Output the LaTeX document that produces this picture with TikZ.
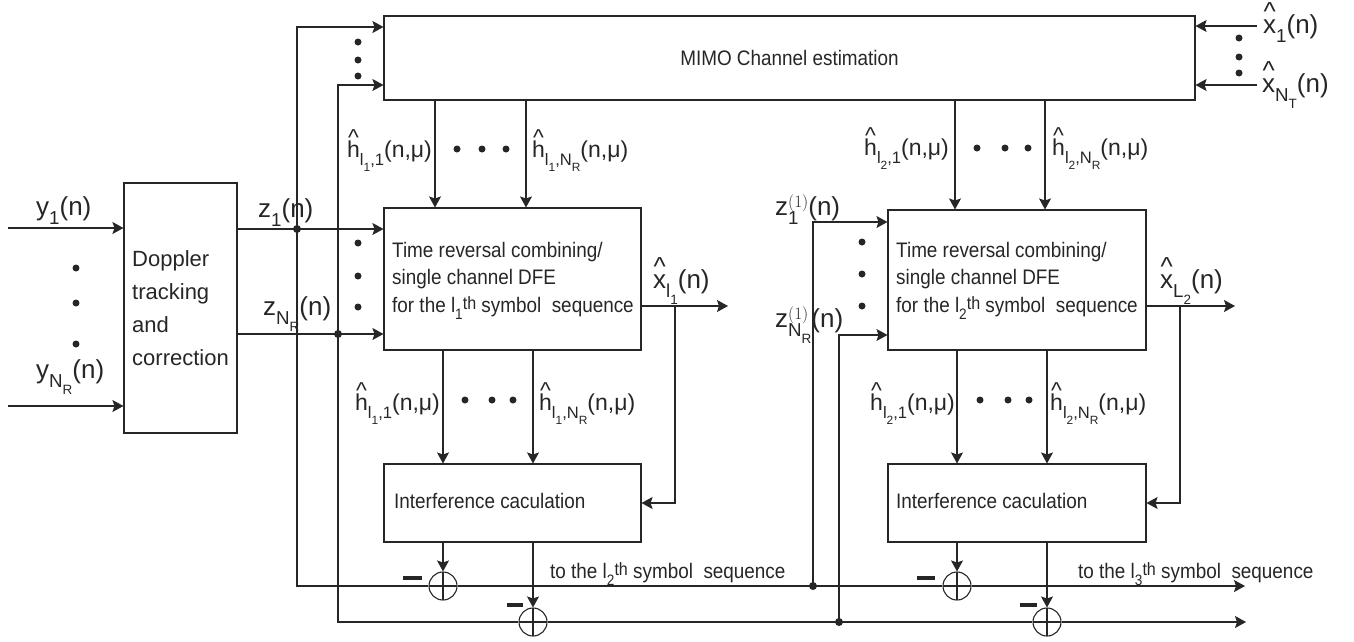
\documentclass[tikz,border=0pt]{standalone}
\usepackage{amsmath}
\usepackage{fontspec}
\setmainfont{Liberation Sans}
\newfontfamily\boxfont[FakeStretch=0.9]{Liberation Sans}
\usetikzlibrary{arrows.meta}

\makeatletter
\newcommand\sub[1]{\raisebox{-0.36em}{\fontsize{\fpeval{0.72*\f@size}}{0}\selectfont #1}}
\newcommand\upth{\raisebox{0.12em}{\fontsize{\fpeval{0.85*\f@size}}{0}\selectfont th}}
\makeatother
\newcommand\hatc[1]{\ooalign{#1\cr\hidewidth\raisebox{0.5em}{\textasciicircum}\hidewidth\cr}}
\newcommand\boxtext{\boxfont\fontsize{21}{27.5}\selectfont}
\newcommand\lbltext{\fontsize{26}{30}\selectfont}
\newcommand\htext{\fontsize{23}{27}\selectfont}
\newcommand\hest[2]{\hatc{h}\sub{l\sub{#1},#2}(n,μ)}
\newcommand\zres[1]{z\ooalign{\raisebox{0.3em}{$\scriptstyle(1)$}\cr\sub{#1}\cr}(n)}

\tikzset{
  blk/.style={draw, line width=1.1pt, inner sep=0pt},
  wire/.style={line width=1.1pt},
  sig/.style={wire, -{Stealth[length=11pt, width=12pt, inset=2pt]}},
  lbl/.style={anchor=base west, inner sep=0pt, font=\lbltext},
  hlbl/.style={lbl, font=\htext},
  btxt/.style={anchor=base west, inner sep=0pt, font=\boxtext},
  junc/.style={circle, fill, inner sep=0pt, minimum size=8pt},
  sumnode/.style={circle, draw, line width=1.1pt, minimum size=28pt, inner sep=0pt,
    path picture={\draw[wire] (path picture bounding box.north) -- (path picture bounding box.south)
      (path picture bounding box.west) -- (path picture bounding box.east);}},
  minus/.style={line width=3.5pt}
}

\begin{document}
\begin{tikzpicture}[x=1pt, y=-1pt, color=black!85]
    \useasboundingbox (0,0) rectangle (1354,641);
    % blocks
    \node[blk, minimum width=113pt, minimum height=250pt, align=left,
      font=\fontsize{22}{33}\selectfont] (dop) at (180.5,308) {Doppler\\tracking\\and\\correction};
    \node[blk, minimum width=811pt, minimum height=84pt, font=\boxtext] (mimo) at (789.5,58) {MIMO Channel estimation};
    \node[blk, minimum width=257pt, minimum height=142pt] (tr1) at (512.5,279) {};
    \node[blk, minimum width=257pt, minimum height=78pt] (int1) at (512.5,503) {};
    \node[blk, minimum width=258pt, minimum height=140pt] (tr2) at (1017,280) {};
    \node[blk, minimum width=258pt, minimum height=78pt] (int2) at (1017,503) {};
    \node[anchor=north west, inner sep=0pt, align=left, font=\boxtext] (tr1txt) at (392,242)
      {Time reversal combining/\\single channel DFE\\for the l\sub{1}\upth\ symbol\ \ sequence};
    \node[anchor=north west, inner sep=0pt, align=left, font=\boxtext] (tr2txt) at (896,242)
      {Time reversal combining/\\single channel DFE\\for the l\sub{2}\upth\ symbol\ \ sequence};
    \node[btxt] (int1txt) at (394,508) {Interference caculation};
    \node[btxt] (int2txt) at (896,508) {Interference caculation};
    % adders
    \node[sumnode] (s1) at (443,586) {};
    \node[sumnode] (s2) at (533,622) {};
    \node[sumnode] (s3) at (957,586) {};
    \node[sumnode] (s4) at (1047,622) {};
    \draw[minus] (403,578) -- (422,578);
    \draw[minus] (507,605) -- (523,605);
    \draw[minus] (917,578) -- (935,578);
    \draw[minus] (1020,605) -- (1037,605);
    % inputs
    \coordinate (yone) at (8,228);
    \coordinate (ynr) at (8,406);
    \draw[sig] (yone) -- (yone -| dop.west);
    \draw[sig] (ynr) -- (ynr -| dop.west);
    \coordinate (zone) at (dop.east |- 0,229);
    \coordinate (znr) at (dop.east |- 0,334);
    \draw[sig] (zone) -- (zone -| tr1.west);
    \draw[sig] (znr) -- (znr -| tr1.west);
    \node[junc] (ja) at (297,229) {};
    \node[junc] (jb) at (338,334) {};
    \coordinate (ma) at (mimo.west |- 0,27);
    \coordinate (mb) at (mimo.west |- 0,85);
    \draw[sig] (s1.west) -| (ja.center) |- (ma);
    \draw[sig] (s2.west) -| (jb.center) |- (mb);
    \coordinate (xhone) at (1257,26);
    \coordinate (xhnt) at (1257,85);
    \draw[sig] (xhone) -- (xhone -| mimo.east);
    \draw[sig] (xhnt) -- (xhnt -| mimo.east);
    % channel estimates
    \foreach \xx in {435,526} \draw[sig] (mimo.south -| \xx,0) -- (tr1.north -| \xx,0);
    \foreach \xx in {955,1045} \draw[sig] (mimo.south -| \xx,0) -- (tr2.north -| \xx,0);
    \foreach \xx in {443,533} \draw[sig] (tr1.south -| \xx,0) -- (int1.north -| \xx,0);
    \foreach \xx in {957,1047} \draw[sig] (tr2.south -| \xx,0) -- (int2.north -| \xx,0);
    \draw[sig] (int1.south -| s1) -- (s1.north);
    \draw[sig] (int1.south -| s2) -- (s2.north);
    \draw[sig] (int2.south -| s3) -- (s3.north);
    \draw[sig] (int2.south -| s4) -- (s4.north);
    % decisions and feedback
    \coordinate (xa) at (728,306);
    \coordinate (fa) at (675,306);
    \draw[sig] (tr1.east |- xa) -- (xa);
    \draw[sig] (fa) |- (int1.east);
    \coordinate (xb) at (1235,306);
    \coordinate (fb) at (1180,306);
    \draw[sig] (tr2.east |- xb) -- (xb);
    \draw[sig] (fb) |- (int2.east);
    % cancelled signals
    \node[junc] (jc) at (813,586) {};
    \node[junc] (jd) at (839,622) {};
    \coordinate (outa) at (1245,586);
    \coordinate (outb) at (1246,622);
    \draw[wire] (s1.east) -- (s3.west);
    \draw[sig] (s3.east) -- (outa);
    \draw[wire] (s2.east) -- (s4.west);
    \draw[sig] (s4.east) -- (outb);
    \draw[sig] (jc.center) |- (tr2.west |- 0,222);
    \draw[sig] (jd.center) |- (tr2.west |- 0,335);
    % dots
    \foreach \p in {(76,268),(76,303),(76,344),(358,42),(358,60),(358,76),(1239,38),(1239,57),(1239,73),
      (358,243),(358,276),(358,307),(862,242),(862,274),(862,306),
      (457,149),(482,149),(506,149),(977,148),(1005,148),(1028,148),
      (465,400),(492,400),(513,400),(980,400),(1008,400),(1029,400)}
      \fill \p circle (3.5pt);
    % labels
    \node[lbl] (lyone) at (36,215) {y\sub{1}(n)};
    \node[lbl] (lynr) at (36,378) {y\sub{N\sub{R}}(n)};
    \node[lbl] (lzone) at (258,217) {z\sub{1}(n)};
    \node[lbl] (lznr) at (263,315) {z\sub{N\sub{R}}(n)};
    \node[hlbl] (lha) at (347,157) {\hest{1}{1}};
    \node[hlbl] (lhb) at (532,157) {\hest{1}{N\sub{R}}};
    \node[hlbl] (lhc) at (864,155) {\hest{2}{1}};
    \node[hlbl] (lhd) at (1052,155) {\hest{2}{N\sub{R}}};
    \node[hlbl] (lhe) at (355,410) {\hest{1}{1}};
    \node[hlbl] (lhf) at (539,410) {\hest{1}{N\sub{R}}};
    \node[hlbl] (lhg) at (870,410) {\hest{2}{1}};
    \node[hlbl] (lhh) at (1050,410) {\hest{2}{N\sub{R}}};
    \node[lbl] (lxa) at (653,288) {\hatc{x}\sub{l\sub{1}}(n)};
    \node[lbl] (lxb) at (1160,288) {\hatc{x}\sub{L\sub{2}}(n)};
    \node[lbl] (lxone) at (1263,33) {\hatc{x}\sub{1}(n)};
    \node[lbl] (lxnt) at (1262,92) {\hatc{x}\sub{N\sub{T}}(n)};
    \node[lbl] (lzra) at (775,215) {\zres{1}};
    \node[lbl] (lzrb) at (775,327) {\zres{N\sub{R}}};
    \node[btxt] (toa) at (550,578) {to the l\sub{2}\upth\ symbol\ \ sequence};
    \node[btxt] (tob) at (1078,578) {to the l\sub{3}\upth\ symbol\ \ sequence};
\end{tikzpicture}
\end{document}
